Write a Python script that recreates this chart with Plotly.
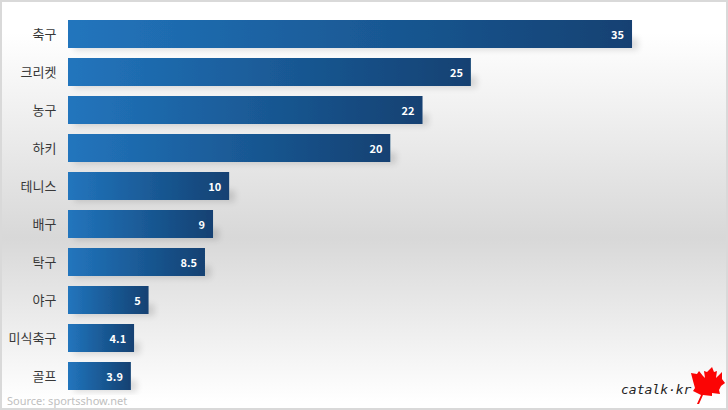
import plotly.graph_objects as go

categories = ["축구", "크리켓", "농구", "하키", "테니스", "배구", "탁구", "야구", "미식축구", "골프"]
values = [35, 25, 22, 20, 10, 9, 8.5, 5, 4.1, 3.9]

KR = "Noto Sans CJK KR"
W, H, L = 728, 410, 68
PX_PER_UNIT = 16.115

leaf_px = [(697,404),(701,395),(693,391),(695,388),(693,381),(691,373),(697,374),(699,371),(703,376),(705,378),
           (704,371),(707,372),(712,367),(714,372),(717,371),(716,378),(719,375),(722,372),(722,379),(725,383),
           (721,386),(719,390),(720,394),(712,393),(712,396),(703,395),(699,404)]

def to_paper(x, y):
    return (x - L) / (W - L), (H - 15 - y) / (H - 30)

leaf_path = "M" + " L".join("%.4f,%.4f" % to_paper(x, y) for x, y in leaf_px) + " Z"

fig = go.Figure(go.Bar(
    y=categories, x=values, orientation="h",
    text=[f"<b>{v}</b>\u00a0\u00a0" for v in values],
    textposition="inside", insidetextanchor="end", textangle=0,
    constraintext="none", cliponaxis=False,
    textfont=dict(family=KR, size=11, color="white"),
    marker=dict(color="#2275bd", line_width=0),
    width=0.737, hoverinfo="skip",
))
fig.update_layout(
    width=W, height=H, margin=dict(l=L, r=0, t=15, b=15),
    paper_bgcolor="rgba(0,0,0,0)", plot_bgcolor="rgba(0,0,0,0)",
    showlegend=False,
    xaxis=dict(range=[0, (W - L) / PX_PER_UNIT], visible=False),
    yaxis=dict(autorange="reversed", showgrid=False, showline=False, zeroline=False,
               ticks="outside", ticklen=8, tickcolor="rgba(0,0,0,0)",
               tickfont=dict(family=KR, size=13, color="#383838")),
    shapes=[dict(type="path", xref="paper", yref="paper", path=leaf_path,
                 fillcolor="#fb0505", line_width=0, layer="above")],
    annotations=[
        dict(text="Source: sportsshow.net", xref="paper", yref="paper", showarrow=False,
             x=to_paper(5, 0)[0], y=to_paper(0, 400)[1], xanchor="left", yanchor="middle",
             font=dict(family="Noto Sans", size=11, color="#c0c0c0")),
        dict(text="<i>catalk·kr</i>", xref="paper", yref="paper", showarrow=False,
             x=to_paper(619, 0)[0], y=to_paper(0, 389)[1], xanchor="left", yanchor="middle",
             font=dict(family="DejaVu Sans Mono", size=13, color="#222222")),
    ],
)

post = """
document.documentElement.style.height='100%';
var b=document.body; b.style.margin='0'; b.style.height='100%'; b.style.overflow='hidden';
b.style.background='linear-gradient(to bottom,#ffffff 0%,#ffffff 8%,#d8d8d8 58%,#ffffff 98%)';
var frame=document.createElement('div');
frame.style.cssText='position:fixed;left:0;top:0;width:728px;height:410px;box-sizing:border-box;border:2px solid #d9d9d9;pointer-events:none;z-index:10';
b.appendChild(frame);
function dress(){
  var svg=document.querySelector('svg.main-svg');
  if(!document.getElementById('barGrad')){
    var ns='http://www.w3.org/2000/svg', defs=document.createElementNS(ns,'defs');
    defs.innerHTML='<linearGradient id="barGrad" x1="0" y1="0" x2="1" y2="0">'+
      '<stop offset="0" stop-color="#2275bd"/><stop offset="1" stop-color="#124172"/></linearGradient>'+
      '<filter id="barShadow" x="-5%" y="-20%" width="130%" height="150%">'+
      '<feMorphology in="SourceAlpha" operator="erode" radius="0 8"/>'+
      '<feOffset dx="6" dy="10"/><feGaussianBlur stdDeviation="3"/>'+
      '<feComponentTransfer><feFuncA type="linear" slope="0.13"/></feComponentTransfer>'+
      '<feMerge><feMergeNode/><feMergeNode in="SourceGraphic"/></feMerge></filter>';
    svg.insertBefore(defs,svg.firstChild);
  }
  document.querySelectorAll('.bars .point path').forEach(function(p){
    p.style.fill='url(#barGrad)'; p.style.filter='url(#barShadow)';
  });
}
dress();
document.querySelector('.plotly-graph-div').on('plotly_afterplot',dress);
"""
fig.write_html("out.html", post_script=post, config=dict(displayModeBar=False))
